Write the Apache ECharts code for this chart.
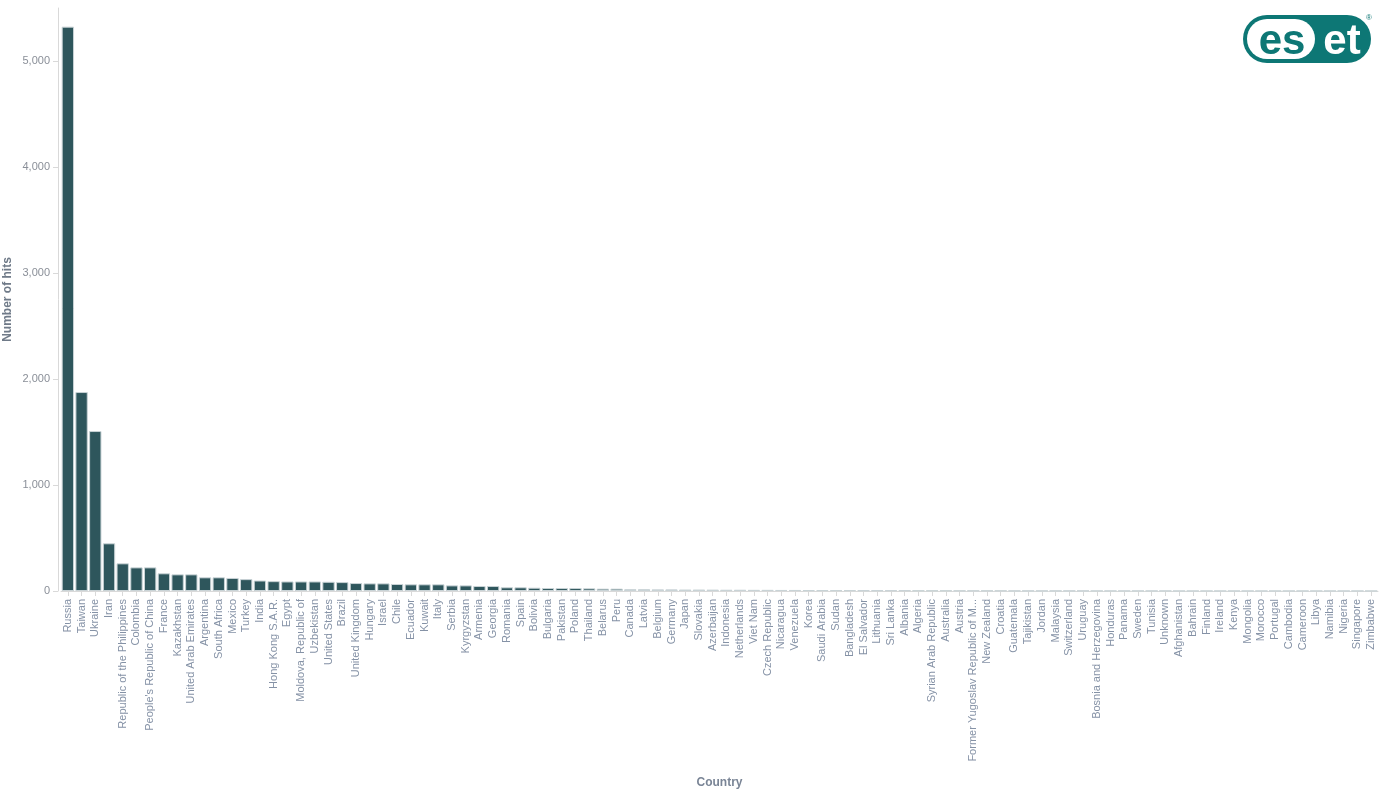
<!DOCTYPE html>
<html>
<head>
<meta charset="utf-8">
<style>
  html, body { margin: 0; padding: 0; background: #fff; }
  #main { width: 1385px; height: 790px; }
</style>
<script src="https://cdn.jsdelivr.net/npm/echarts@6/dist/echarts.min.js"></script>
</head>
<body>
<div id="main"></div>
<script>
// countries, in the order of the bars
var countries = [
  'Russia', 'Taiwan', 'Ukraine', 'Iran', 'Republic of the Philippines', 'Colombia',
  "People's Republic of China", 'France', 'Kazakhstan', 'United Arab Emirates', 'Argentina',
  'South Africa', 'Mexico', 'Turkey', 'India', 'Hong Kong S.A.R.', 'Egypt',
  'Moldova, Republic of', 'Uzbekistan', 'United States', 'Brazil', 'United Kingdom',
  'Hungary', 'Israel', 'Chile', 'Ecuador', 'Kuwait', 'Italy', 'Serbia', 'Kyrgyzstan',
  'Armenia', 'Georgia', 'Romania', 'Spain', 'Bolivia', 'Bulgaria', 'Pakistan', 'Poland',
  'Thailand', 'Belarus', 'Peru', 'Canada', 'Latvia', 'Belgium', 'Germany', 'Japan',
  'Slovakia', 'Azerbaijan', 'Indonesia', 'Netherlands', 'Viet Nam', 'Czech Republic',
  'Nicaragua', 'Venezuela', 'Korea', 'Saudi Arabia', 'Sudan', 'Bangladesh', 'El Salvador',
  'Lithuania', 'Sri Lanka', 'Albania', 'Algeria', 'Syrian Arab Republic', 'Australia',
  'Austria', 'Former Yugoslav Republic of M...', 'New Zealand', 'Croatia', 'Guatemala',
  'Tajikistan', 'Jordan', 'Malaysia', 'Switzerland', 'Uruguay', 'Bosnia and Herzegovina',
  'Honduras', 'Panama', 'Sweden', 'Tunisia', 'Unknown', 'Afghanistan', 'Bahrain',
  'Finland', 'Ireland', 'Kenya', 'Mongolia', 'Morocco', 'Portugal', 'Cambodia',
  'Cameroon', 'Libya', 'Namibia', 'Nigeria', 'Singapore', 'Zimbabwe'
];

// number of hits per country
var hits = [
  5324, 1877, 1509, 450, 261, 223,
  223, 167, 157, 157, 129,
  129, 123, 112, 99, 93, 90,
  90, 90, 87, 84, 75,
  72, 72, 66, 63, 63, 63, 53, 53,
  47, 47, 35, 35, 31, 28, 28, 28,
  25, 22, 22, 16, 16, 15, 15, 14,
  14, 13, 12, 12, 11, 11,
  10, 10, 9, 9, 8, 8, 7,
  7, 6, 6, 5, 5, 5,
  4, 4, 4, 4, 3,
  3, 3, 3, 3, 3, 2,
  2, 2, 2, 2, 2, 1, 1,
  1, 1, 1, 1, 1, 1, 1,
  1, 1, 1, 1, 1, 1
];

// value axis ticks
var yMin = 0;
var yMax = 5500;
var yStep = 1000;

var chart = echarts.init(document.getElementById('main'));

chart.setOption({
  animation: false,
  textStyle: { fontFamily: 'Liberation Sans, Arial, sans-serif' },
  grid: { left: 61, right: 7, top: 8, bottom: 199, containLabel: false, outerBoundsMode: 'none' },
  xAxis: {
    type: 'category',
    data: countries,
    name: 'Country',
    nameLocation: 'middle',
    nameGap: 186,
    nameTextStyle: { color: '#7a8596', fontWeight: 'bold', fontSize: 12 },
    axisLine: { lineStyle: { color: '#d9d9d9' } },
    axisTick: { show: true, alignWithLabel: true, length: 5, lineStyle: { color: '#d9d9d9' } },
    axisLabel: {
      interval: 0,
      rotate: 90,
      fontSize: 11,
      color: '#8592a6',
      margin: 8
    }
  },
  yAxis: {
    type: 'value',
    min: yMin,
    max: yMax,
    interval: yStep,
    offset: 3,
    name: 'Number of hits',
    nameLocation: 'middle',
    nameMoveOverlap: false,
    nameGap: 44,
    nameTextStyle: { color: '#6f7a88', fontWeight: 'bold', fontSize: 12 },
    axisLine: { show: true, lineStyle: { color: '#d9d9d9' } },
    axisTick: { show: true, length: 5, lineStyle: { color: '#d9d9d9' } },
    splitLine: { show: false },
    axisLabel: {
      showMaxLabel: false,
      fontSize: 11,
      color: '#8a8f98',
      margin: 8,
      formatter: function (v) { return v.toLocaleString('en-US'); }
    }
  },
  series: [{
    type: 'bar',
    data: hits,
    barCategoryGap: '10%',
    itemStyle: {
      color: '#2e565c',
      borderColor: '#c9d3d6',
      borderWidth: 1
    }
  }],
  graphic: [{
    type: 'group',
    left: 1243,
    top: 14,
    children: [
      { type: 'rect', shape: { x: 0, y: 0, width: 128, height: 48, r: 24 }, style: { fill: '#0d7775' } },
      { type: 'rect', shape: { x: 4, y: 4, width: 68, height: 40, r: 20 }, style: { fill: '#ffffff' } },
      { type: 'text', x: 39, y: 27, style: { text: 'es', fill: '#0d7775', font: 'bold 42px Liberation Sans', align: 'center', verticalAlign: 'middle' } },
      { type: 'text', x: 99, y: 27, style: { text: 'et', fill: '#ffffff', font: 'bold 42px Liberation Sans', align: 'center', verticalAlign: 'middle' } },
      { type: 'text', x: 126, y: 3, style: { text: '®', fill: '#0d7775', font: '8px Liberation Sans', align: 'center', verticalAlign: 'middle' } }
    ]
  }]
});
</script>
</body>
</html>
